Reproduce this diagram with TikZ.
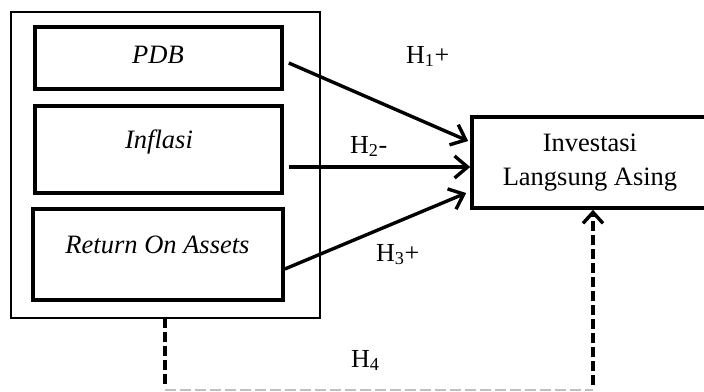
\documentclass[tikz,border=0pt]{standalone}
\usepackage{fontspec}
\setmainfont{Liberation Serif}
\usetikzlibrary{arrows.meta}
\begin{document}
\begin{tikzpicture}[x=1pt,y=1pt,
  box/.style={draw, line width=3.6pt, inner sep=0pt, rectangle},
  txt/.style={font=\fontsize{26.5}{34}\selectfont, inner sep=0pt},
  lbl/.style={font=\fontsize{26}{32}\selectfont, inner sep=0pt, anchor=base west},
  arr/.style={line width=3.4pt, -{Straight Barb[length=13pt,width=22pt,line width=3.4pt]}},
  dashline/.style={line width=3.4pt, dash pattern=on 10pt off 4pt},
  gdash/.style={line width=1.6pt, draw={rgb,255:red,192;green,192;blue,192}, dash pattern=on 11pt off 4pt}]
\useasboundingbox (0,0) rectangle (704,-391);
\clip (0,0) rectangle (704,-391);
% outer group box
\node[box, line width=2.2pt, minimum width=309pt, minimum height=306pt] (outer) at (165.5,-165) {};
% inner boxes
\node[box, minimum width=247pt, minimum height=62pt] (pdb) at (158.5,-58) {};
\node[box, minimum width=247pt, minimum height=87pt] (inf) at (158.5,-149.5) {};
\node[box, minimum width=250pt, minimum height=91pt] (roa) at (158,-254.5) {};
\node[txt, anchor=base] (tpdb) at (158,-63) {\itshape PDB};
\node[txt, anchor=base] (tinf) at (159,-148) {\itshape Inflasi};
\node[txt, anchor=base] (troa) at (157.5,-253) {\itshape Return On Assets};
% dependent box
\node[box, txt, minimum width=236pt, minimum height=91pt, align=center] (ila) at (590,-162.5) {Investasi\\Langsung Asing};
% arrows
\draw[arr] ([shift={(5,-5)}]pdb.east) -- ([shift={(-2,21.5)}]ila.west);
\draw[arr] ([shift={(5,-17.5)}]inf.east) -- ([shift={(0,-4.5)}]ila.west);
\draw[arr] ([shift={(0,-14.5)}]roa.east) -- ([shift={(-4,-30.5)}]ila.west);
% labels
\node[lbl] (h1) at (406,-63) {H\textsubscript{1}+};
\node[lbl] (h2) at (350,-153) {H\textsubscript{2}-};
\node[lbl] (h3) at (376,-261) {H\textsubscript{3}+};
\node[lbl] (h4) at (351,-367) {H\textsubscript{4}};
% moderating path
\coordinate (d1) at (165,-318);
\coordinate (d2) at (165,-385);
\coordinate (g1) at (165,-390);
\coordinate (g2) at (593,-390);
\coordinate (d3) at (593,-385);
\draw[dashline] (d1) -- (d2);
\draw[gdash] (g1) -- (g2);
\draw[dashline, -{Straight Barb[length=11pt,width=20pt,line width=3.4pt]}] (d3) -- (d3 |- ila.south);
\end{tikzpicture}
\end{document}
